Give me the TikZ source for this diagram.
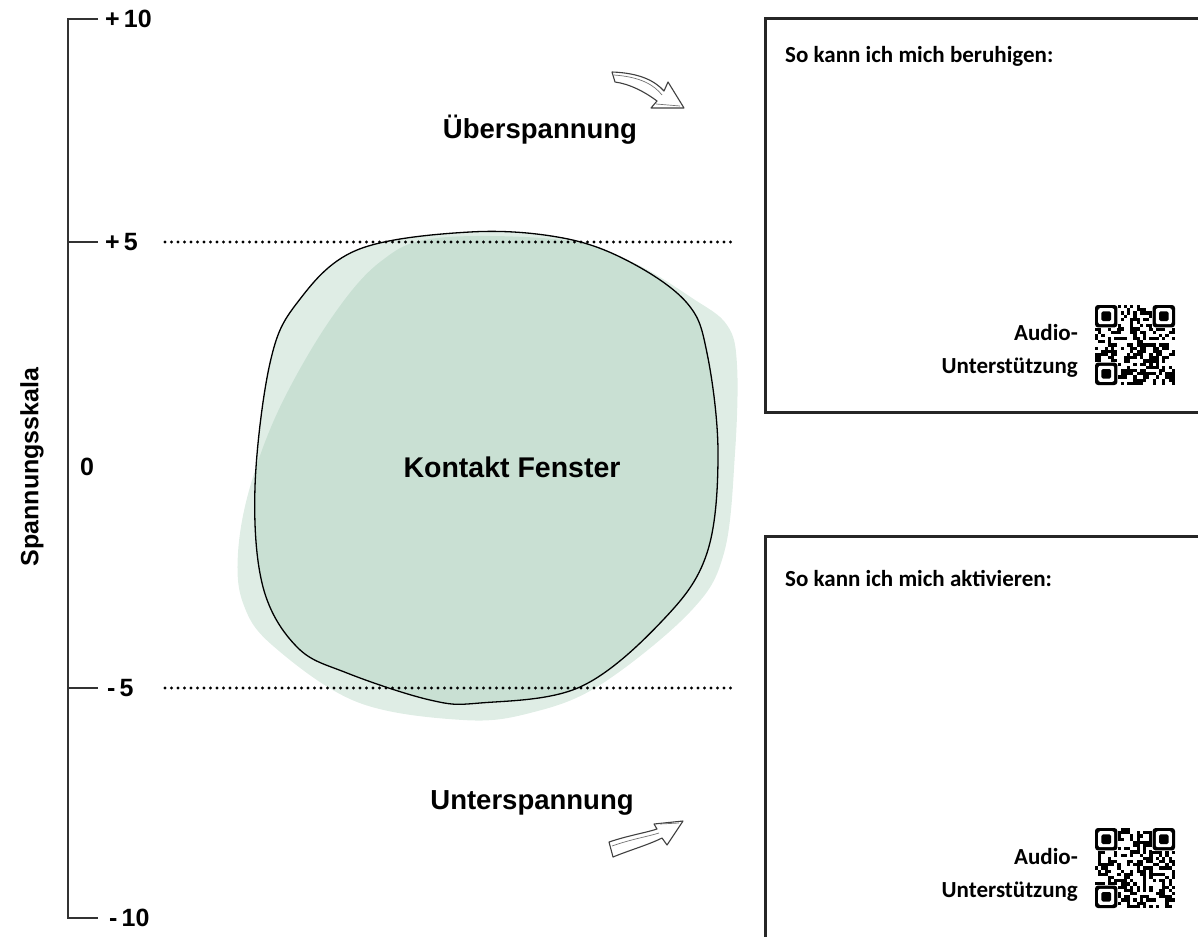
\documentclass[tikz,border=0pt]{standalone}
\usepackage{fontspec}
\setmainfont{Liberation Sans}
\newfontfamily\hand{Carlito}
\definecolor{blobgreen}{RGB}{150,195,170}
\definecolor{axisgray}{RGB}{50,50,50}
\tikzset{
  lbl/.style={font=\bfseries\fontsize{27.5}{30}\selectfont, inner sep=0pt},
  ticklbl/.style={font=\bfseries\fontsize{25}{28}\selectfont, inner sep=0pt, anchor=west},
  axis/.style={draw=axisgray, line width=2.2pt},
  dotline/.style={line width=3.4pt, dash pattern=on 0pt off 6.5pt, line cap=round},
  card/.style={draw=black!85, line width=3pt},
  handtxt/.style={font=\hand\bfseries\fontsize{23}{26}\selectfont, inner sep=0pt},
  sketcharrow/.style={draw=black!75, line width=1.1pt, fill=white, line join=round},
  sketchline/.style={draw=black!55, line width=0.7pt, line join=round},
  blobfill/.style={fill=blobgreen, fill opacity=0.3},
}
\newcommand\myqr[3]{% x y seed
  \begin{scope}[shift={(#1,#2)}]
    \pgfmathsetseed{#3}
    \foreach \i in {0,...,24}{
      \foreach \j in {0,...,24}{
        \pgfmathtruncatemacro\bit{rnd<0.48}
        \ifnum\bit=1
          \fill[black] (\i*3.2,\j*3.2) rectangle ++(3.25,3.25);
        \fi
      }
    }
    \foreach \fx/\fy in {0/0, 57.6/0, 0/57.6}{
      \fill[white] (\fx-1,\fy-1) rectangle ++(24.4,24.4);
      \fill[black, rounded corners=3pt] (\fx,\fy) rectangle ++(22.4,22.4);
      \fill[white, rounded corners=2pt] (\fx+3.2,\fy+3.2) rectangle ++(16,16);
      \fill[black, rounded corners=1.5pt] (\fx+6.4,\fy+6.4) rectangle ++(9.6,9.6);
    }
  \end{scope}
}
\begin{document}
\begin{tikzpicture}[x=1pt,y=-1pt]
\useasboundingbox (0,0) rectangle (1198,936);
\clip (0,0) rectangle (1198,936);

% blob
\path[blobfill] plot[smooth cycle, tension=0.6] coordinates {
  (437,238) (563,240) (632,262) (692,298) (727,325) (737,365) (735,453) (724,553)
  (690,612) (600,685) (530,713) (463,720) (357,702) (272,645) (243,603) (238,553)
  (250,487) (280,407) (330,320) (380,262)};
\path[blobfill, draw=black, draw opacity=1, line width=1.3pt] plot[smooth cycle, tension=0.6] coordinates {
  (470,232) (563,238) (630,262) (687,303) (707,353) (718,453) (707,553) (663,620)
  (580,687) (480,703) (430,700) (347,673) (297,647) (263,587) (255,487) (270,363)
  (297,303) (357,250)};

% axis
\coordinate (top) at (68,19);
\coordinate (bot) at (68,918);
\draw[axis] (98,19) -- (top) -- (bot) -- (98,918);
\draw[axis] (68,242) -- (98,242);
\draw[axis] (68,688) -- (98,688);
\node[ticklbl] (t10) at (105,19) {+\,10};
\node[ticklbl] (t5) at (105,242) {+\,5};
\node[ticklbl] (t0) at (80,467) {0};
\node[ticklbl] (tm5) at (107,688) {-\,5};
\node[ticklbl] (tm10) at (109,918) {-\,10};
\node[lbl, rotate=90, font=\bfseries\fontsize{25}{27}\selectfont] (scale) at (32,467) {Spannungsskala};

% dotted lines
\draw[dotline] (165,242) -- (735,242);
\draw[dotline] (165,688) -- (735,688);

% labels
\node[lbl] (ueber) at (540,130) {Überspannung};
\node[lbl, font=\bfseries\fontsize{28.5}{30}\selectfont] (kontakt) at (512,467) {Kontakt Fenster};
\node[lbl] (unter) at (532,803) {Unterspannung};

% arrows
\draw[sketcharrow] (612,72) .. controls (640,73) and (655,81) .. (664,91) -- (668,82) -- (684,108) -- (651,108) -- (657,101) .. controls (645,92) and (630,84) .. (615,82) -- cycle;
\draw[sketchline] (614,75) .. controls (641,77) and (654,85) .. (662,95) (656,104) -- (680,106);
\draw[sketcharrow] (609,842) .. controls (630,835) and (645,833) .. (657,829) -- (654,824) -- (683,821) -- (667,845) -- (662,838) .. controls (648,845) and (630,850) .. (613,857) -- cycle;
\draw[sketchline] (612,846) .. controls (632,839) and (646,837) .. (659,833) (660,824) -- (679,823);

% cards
\draw[card] (765,19) rectangle (1210,412);
\draw[card] (765,536) rectangle (1210,950);
\node[handtxt, anchor=base west] (c1) at (785,63) {So kann ich mich beruhigen:};
\node[handtxt, anchor=base west] (c2) at (785,586) {So kann ich mich aktivieren:};
\node[handtxt, anchor=base east] (a1) at (1078,340) {Audio-};
\node[handtxt, anchor=base east] (u1) at (1078,373) {Unterstützung};
\node[handtxt, anchor=base east] (a2) at (1078,864) {Audio-};
\node[handtxt, anchor=base east] (u2) at (1078,897) {Unterstützung};
\myqr{1095}{305}{17}
\myqr{1095}{828}{42}
\end{tikzpicture}
\end{document}
